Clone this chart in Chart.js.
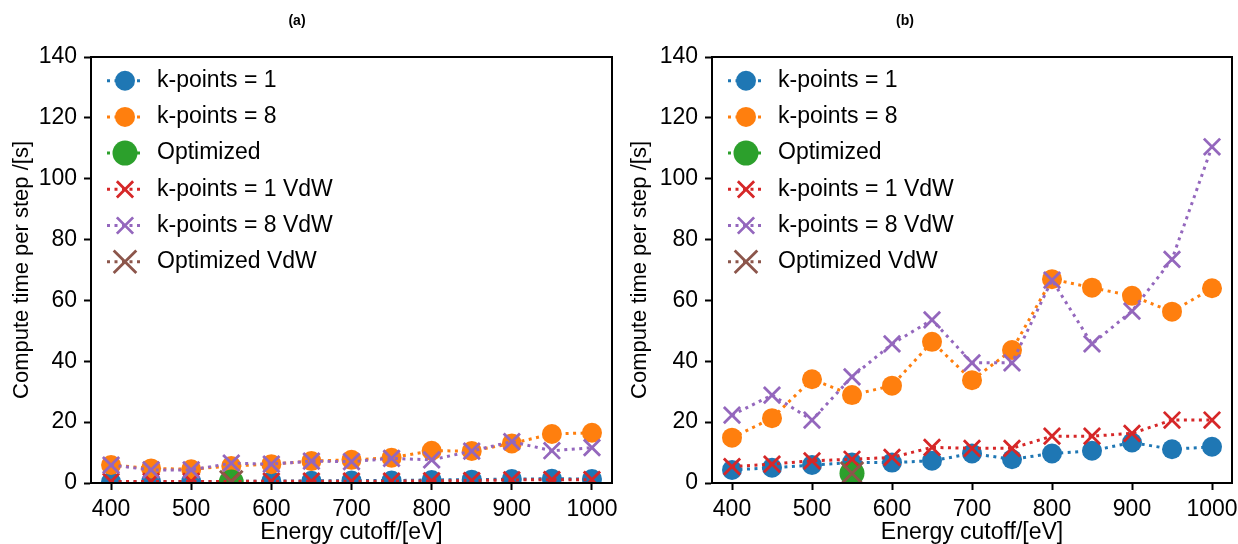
<!DOCTYPE html>
<html>
<head>
<meta charset="utf-8">
<script src="https://cdn.jsdelivr.net/npm/chart.js@4.4.1/dist/chart.umd.min.js"></script>
<style>
  html, body { margin: 0; padding: 0; background: #fff; }
  #wrap { position: relative; width: 1238px; height: 544px; overflow: hidden; }
  .panel { position: absolute; top: 0; width: 619px; height: 544px; }
</style>
</head>
<body>
<div id="wrap">
  <div class="panel" style="left:0"><canvas id="chartA" width="619" height="544"></canvas></div>
  <div class="panel" style="left:619px"><canvas id="chartB" width="619" height="544"></canvas></div>
</div>
<script>
// Energy cutoffs (eV) and tick values
const cutoffs = [400, 450, 500, 550, 600, 650, 700, 750, 800, 850, 900, 950, 1000];
const optCutoff = [550];
const xTicks = [400, 500, 600, 700, 800, 900, 1000];
const yTicks = [0, 20, 40, 60, 80, 100, 120, 140];

// Panel (a): compute time per step [s]
const aKp1     = [0.4, 0.4, 0.5, 0.5, 0.6, 0.7, 0.8, 0.8, 1.0, 1.1, 1.3, 1.4, 1.3];
const aKp8     = [5.9, 4.8, 4.5, 5.6, 6.2, 7.2, 7.6, 8.3, 10.6, 10.5, 13.0, 16.1, 16.5];
const aOpt     = [0.3];
const aKp1Vdw  = [0.5, 0.5, 0.5, 0.5, 0.6, 0.6, 0.6, 0.6, 0.7, 0.8, 1.0, 1.1, 1.1];
const aKp8Vdw  = [5.9, 4.3, 4.3, 6.5, 6.2, 7.2, 7.0, 8.1, 7.6, 10.5, 13.6, 10.6, 11.6];
const aOptVdw  = [0.3];

// Panel (b): compute time per step [s]
const bKp1     = [4.3, 5.0, 5.9, 6.7, 6.7, 7.3, 9.7, 7.8, 9.7, 10.6, 13.3, 11.1, 11.9];
const bKp8     = [14.9, 21.3, 34.1, 28.9, 32.0, 46.4, 33.8, 43.7, 67.0, 64.2, 61.5, 56.3, 64.0];
const bOpt     = [3.2];
const bKp1Vdw  = [5.4, 6.2, 7.3, 7.8, 8.4, 11.7, 11.4, 11.4, 15.4, 15.4, 16.3, 20.7, 20.7];
const bKp8Vdw  = [22.3, 28.9, 20.7, 34.9, 45.7, 53.6, 39.5, 39.5, 66.7, 45.7, 56.5, 73.5, 110.5];
const bOptVdw  = [3.2];

const labels = ['k-points = 1', 'k-points = 8', 'Optimized', 'k-points = 1 VdW', 'k-points = 8 VdW', 'Optimized VdW'];
const colors = ['#1f77b4', '#ff7f0e', '#2ca02c', '#d62728', '#9467bd', '#8c564b'];

const FONT = "'Liberation Sans', Arial, Helvetica, sans-serif";
const LINE_W = 3;
const DASH = [3, 4.5];

function series(idx, xs, ys, kind) {
  const color = colors[idx];
  const isCircle = kind === 'dot' || kind === 'bigdot';
  const radius = kind === 'dot' ? 10 : kind === 'bigdot' ? 12.5 : kind === 'x' ? 11.5 : 16;
  return {
    label: labels[idx],
    data: xs.map((x, i) => ({ x: x, y: ys[i] })),
    borderColor: color,
    backgroundColor: color,
    borderWidth: LINE_W,
    borderDash: DASH,
    fill: false,
    tension: 0,
    pointStyle: isCircle ? 'circle' : 'crossRot',
    pointRadius: radius,
    pointHoverRadius: radius,
    pointBackgroundColor: color,
    pointBorderColor: color,
    pointBorderWidth: isCircle ? 0 : 2.8,
    clip: 0,
    order: 10 - idx
  };
}

// Black frame around the plotting area
const framePlugin = {
  id: 'frame',
  afterDatasetsDraw(chart) {
    const a = chart.chartArea, ctx = chart.ctx;
    ctx.save();
    ctx.strokeStyle = '#000';
    ctx.lineWidth = 2;
    ctx.strokeRect(a.left, a.top, a.right - a.left, a.bottom - a.top);
    ctx.restore();
  }
};

// Legend drawn inside the upper-left corner of the plot
const innerLegend = {
  id: 'innerLegend',
  afterDraw(chart) {
    const a = chart.chartArea, ctx = chart.ctx;
    ctx.save();
    chart.data.datasets.forEach((ds, i) => {
      const y = a.top + 23.7 + i * 36.2;
      const x0 = a.left + 16, x1 = a.left + 51, xm = a.left + 34;
      ctx.strokeStyle = ds.borderColor;
      ctx.lineWidth = LINE_W;
      ctx.setLineDash(DASH);
      ctx.beginPath();
      ctx.moveTo(x0, y);
      ctx.lineTo(x1, y);
      ctx.stroke();
      ctx.setLineDash([]);
      ctx.fillStyle = ds.pointBackgroundColor;
      ctx.strokeStyle = ds.pointBorderColor;
      ctx.lineWidth = ds.pointBorderWidth;
      Chart.helpers.drawPoint(ctx, {
        pointStyle: ds.pointStyle, rotation: 0,
        radius: ds.pointRadius, borderWidth: ds.pointBorderWidth
      }, xm, y);
      ctx.fillStyle = '#000';
      ctx.font = '23px ' + FONT;
      ctx.textAlign = 'left';
      ctx.textBaseline = 'middle';
      ctx.fillText(ds.label, a.left + 66, y);
    });
    ctx.restore();
  }
};

// Small bold panel caption
function captionPlugin(text, x, y) {
  return {
    id: 'caption',
    afterDraw(chart) {
      const ctx = chart.ctx;
      ctx.save();
      ctx.fillStyle = '#000';
      ctx.font = 'bold 14px ' + FONT;
      ctx.textAlign = 'center';
      ctx.textBaseline = 'middle';
      ctx.fillText(text, x, y);
      ctx.restore();
    }
  };
}

function makeChart(canvasId, caption, capX, yAxisWidth, rightPad, titlePad, d) {
  const datasets = [
    series(0, cutoffs, d[0], 'dot'),
    series(1, cutoffs, d[1], 'dot'),
    series(2, optCutoff, d[2], 'bigdot'),
    series(3, cutoffs, d[3], 'x'),
    series(4, cutoffs, d[4], 'x'),
    series(5, optCutoff, d[5], 'bigx')
  ];
  const tickFont = { family: FONT, size: 23 };
  return new Chart(document.getElementById(canvasId), {
    type: 'line',
    data: { datasets: datasets },
    options: {
      responsive: false,
      animation: false,
      events: [],
      layout: { autoPadding: false, padding: { left: 0, right: rightPad, top: 57, bottom: 0 } },
      plugins: { legend: { display: false }, tooltip: { enabled: false }, title: { display: false } },
      scales: {
        x: {
          type: 'linear',
          min: 375, max: 1025,
          afterBuildTicks(s) { s.ticks = xTicks.map(v => ({ value: v })); },
          afterFit(s) { s.height = 61; s.paddingLeft = 0; s.paddingRight = 0; },
          grid: { drawOnChartArea: false, drawTicks: true, tickLength: 7, tickWidth: 2, tickColor: '#000' },
          border: { display: true, color: '#000', width: 2 },
          ticks: { font: tickFont, color: '#000', padding: 6, maxRotation: 0, autoSkip: false, callback: v => String(v) },
          title: { display: true, text: 'Energy cutoff/[eV]', font: { family: FONT, size: 23 }, color: '#000', padding: { top: 0, bottom: -2 } }
        },
        y: {
          min: 0, max: 140,
          afterBuildTicks(s) { s.ticks = yTicks.map(v => ({ value: v })); },
          afterFit(s) { s.width = yAxisWidth; s.paddingTop = 0; s.paddingBottom = 0; },
          grid: { drawOnChartArea: false, drawTicks: true, tickLength: 7, tickWidth: 2, tickColor: '#000' },
          border: { display: true, color: '#000', width: 2 },
          ticks: { font: tickFont, color: '#000', padding: 7, callback: v => String(v) },
          title: { display: true, text: 'Compute time per step /[s]', font: { family: FONT, size: 22 }, color: '#000', padding: { top: titlePad, bottom: 0 } }
        }
      }
    },
    plugins: [framePlugin, innerLegend, captionPlugin(caption, capX, 21)]
  });
}

makeChart('chartA', '(a)', 297, 91, 7, 8.8, [aKp1, aKp8, aOpt, aKp1Vdw, aKp8Vdw, aOptVdw]);
makeChart('chartB', '(b)', 286, 93, 6, 7.8, [bKp1, bKp8, bOpt, bKp1Vdw, bKp8Vdw, bOptVdw]);
</script>
</body>
</html>
